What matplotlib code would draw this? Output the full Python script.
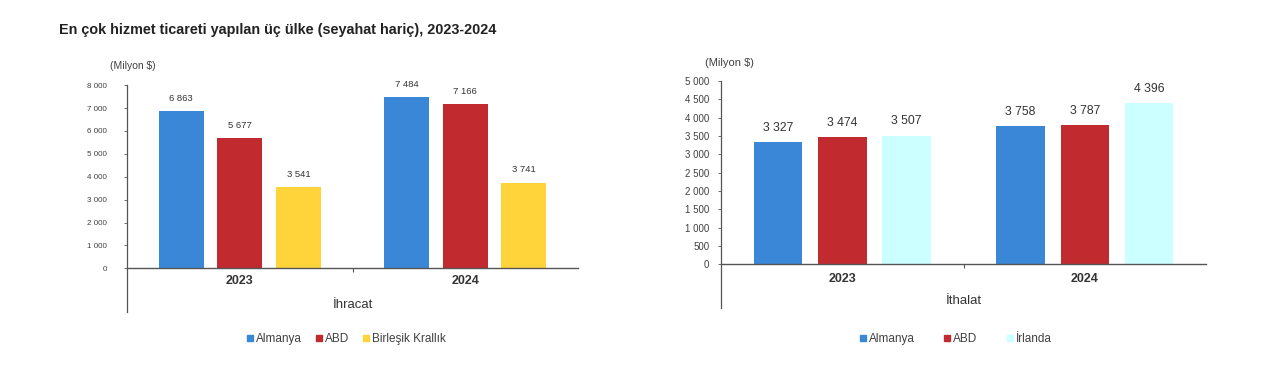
import numpy as np
import matplotlib.pyplot as plt
from matplotlib.lines import Line2D

plt.rcParams['font.family'] = ['Liberation Sans', 'DejaVu Sans']

# Données
years = ["2023", "2024"]

ihracat_ulkeler = ["Almanya", "ABD", "Birleşik Krallık"]
ihracat_degerler = [[6863, 7484],   # Almanya
                    [5677, 7166],   # ABD
                    [3541, 3741]]   # Birleşik Krallık

ithalat_ulkeler = ["Almanya", "ABD", "İrlanda"]
ithalat_degerler = [[3327, 3758],
                    [3474, 3787],
                    [3507, 4396]]

ihracat_renk = ["#3a87d8", "#c12b2f", "#ffd43a"]
ithalat_renk = ["#3a87d8", "#c12b2f", "#ccffff"]

def fmt(v):
    return f"{v:,}".replace(",", " ")

def draw(ax, values, colors, yticks, ybottom, xlabel, step, tfs, lfs, pad, off):
    x = np.arange(len(years))
    width = 0.2
    for i, (vals, c) in enumerate(zip(values, colors)):
        pos = x + (i - 1) * step
        ax.bar(pos, vals, width=width, color=c, zorder=2)
        for p, v in zip(pos, vals):
            ax.annotate(fmt(v), (p, v), xytext=(0, 6), textcoords="offset points",
                        ha="center", va="bottom", fontsize=lfs, color="#333333")
    ax.set_xlim(-0.5, 1.5)
    ax.set_ylim(ybottom, yticks[-1])
    ax.set_yticks(yticks)
    ax.set_yticklabels([fmt(t) for t in yticks], fontsize=tfs, color="#404040")
    ax.tick_params(axis="y", length=2, width=0.6, pad=pad, color="#555555")
    ax.spines["top"].set_visible(False)
    ax.spines["right"].set_visible(False)
    ax.spines["left"].set_color("#555555")
    ax.spines["left"].set_linewidth(0.9)
    ax.spines["bottom"].set_position(("data", 0))
    ax.spines["bottom"].set_color("#555555")
    ax.spines["bottom"].set_linewidth(1.0)
    ax.set_xticks([0.5])
    ax.set_xticklabels([""])
    ax.tick_params(axis="x", length=3, width=0.8, color="#555555")
    # kategori etiketleri (x ekseninin altında)
    for i, y in enumerate(years):
        ax.annotate(y, (i, 0), xytext=(0, -off[0]), textcoords="offset points",
                    ha="center", va="center", fontsize=9, fontweight="bold", color="#333333")
    ax.annotate(xlabel, (0.5, 0), xytext=(0, -off[1]), textcoords="offset points",
                ha="center", va="center", fontsize=9.5, color="#333333")

fig = plt.figure(figsize=(12.8, 3.87), dpi=100)

ax1 = fig.add_axes([0.0992, 0.194, 0.3524, 0.586])
draw(ax1, ihracat_degerler, ihracat_renk, list(range(0, 8001, 1000)), -1900,
     "İhracat", 0.26, 5.8, 6.8, 12.3, (9.4, 26))
ax1.text(-0.038, 1.084, "(Milyon $)", transform=ax1.transAxes, fontsize=7.5,
         color="#404040", ha="left", va="center")

ax2 = fig.add_axes([0.5633, 0.204, 0.3789, 0.587])
draw(ax2, ithalat_degerler, ithalat_renk, list(range(0, 5001, 500)), -1190,
     "İthalat", 0.265, 7, 8.8, 6.5, (10.5, 26.5))
ax2.text(-0.033, 1.078, "(Milyon $)", transform=ax2.transAxes, fontsize=8,
         color="#404040", ha="left", va="center")

fig.text(0.046, 0.922, "En çok hizmet ticareti yapılan üç ülke (seyahat hariç), 2023-2024",
         fontsize=10.4, fontweight="bold", color="#222222", va="center")

def legend(names, colors, xc, cs):
    handles = [Line2D([], [], marker="s", linestyle="", color=c, markersize=4) for c in colors]
    fig.legend(handles, names, loc="center", bbox_to_anchor=(xc, 0.124), ncol=3,
               frameon=False, fontsize=8.5, handletextpad=0.05, columnspacing=cs,
               handlelength=0.8, labelcolor="#404040")

legend(ihracat_ulkeler, ihracat_renk, 0.27, 1.1)
legend(ithalat_ulkeler, ithalat_renk, 0.746, 2.4)

fig.savefig("out.png", dpi=100, facecolor="white")
